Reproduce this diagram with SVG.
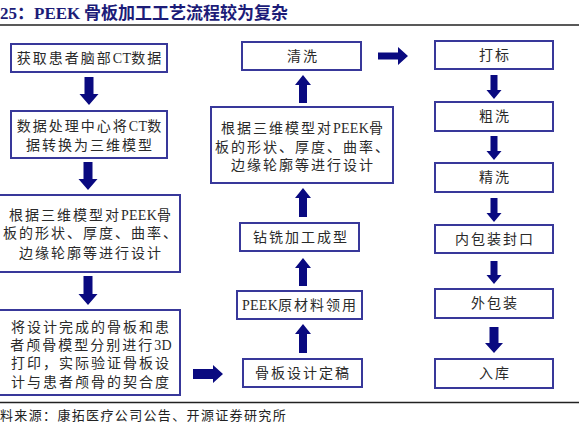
<svg xmlns="http://www.w3.org/2000/svg" width="579" height="428" viewBox="0 0 579 428">
<style>
  .box{fill:#ffffff;stroke:#38389a;stroke-width:2}
  .t{font-family:"Liberation Serif","Noto Sans CJK SC",serif;font-size:14px;fill:#2a2a2a;text-anchor:middle;letter-spacing:2px}
  .l{letter-spacing:0.3px}
  .arr{fill:#0a0a80}
  .title{font-family:"Liberation Serif","Noto Sans CJK SC",serif;font-size:17px;font-weight:bold;fill:#1c1c78}
  .foot{font-family:"Liberation Serif","Noto Sans CJK SC",serif;font-size:13px;fill:#222222;letter-spacing:1.35px}
  .rule{stroke:#222222;stroke-width:1.5}
</style>
<rect width="579" height="428" fill="#ffffff"/>
<g id="title">
  <text class="title" x="0" y="19">25：PEEK</text>
  <text class="title" x="84" y="19">骨板加工工艺流程较为复杂</text>
  <line class="rule" x1="0" y1="25" x2="579" y2="25"/>
</g>
<g id="n1"><rect class="box" x="11" y="44" width="156" height="28"/><text class="t" x="90" y="63">获取患者脑部<tspan class="l">CT</tspan>数据</text></g>
<g id="n2"><rect class="box" x="11" y="111" width="156" height="47"/><text class="t" x="90" y="131">数据处理中心将<tspan class="l">CT</tspan>数</text><text class="t" x="90" y="150">据转换为三维模型</text></g>
<g id="n3"><rect class="box" x="-1" y="195" width="181" height="77"/><text class="t" x="91" y="220">根据三维模型对<tspan class="l">PEEK</tspan>骨</text><text class="t" x="91" y="238">板的形状、厚度、曲率、</text><text class="t" x="91" y="258">边缘轮廓等进行设计</text></g>
<g id="n4"><rect class="box" x="-1" y="310" width="181" height="85"/><text class="t" x="91" y="332">将设计完成的骨板和患</text><text class="t" x="91" y="350">者颅骨模型分别进行<tspan class="l">3D</tspan></text><text class="t" x="91" y="368">打印，实际验证骨板设</text><text class="t" x="91" y="387">计与患者颅骨的契合度</text></g>
<g id="n5"><rect class="box" x="243" y="359" width="119" height="28"/><text class="t" x="303" y="378">骨板设计定稿</text></g>
<g id="n6"><rect class="box" x="237" y="291" width="125" height="28"/><text class="t" x="300" y="310"><tspan class="l">PEEK</tspan>原材料领用</text></g>
<g id="n7"><rect class="box" x="240" y="223" width="119" height="28"/><text class="t" x="301" y="242">钻铣加工成型</text></g>
<g id="n8"><rect class="box" x="211" y="107" width="182" height="76"/><text class="t" x="303" y="133">根据三维模型对<tspan class="l">PEEK</tspan>骨</text><text class="t" x="303" y="152">板的形状、厚度、曲率、</text><text class="t" x="303" y="170">边缘轮廓等进行设计</text></g>
<g id="n9"><rect class="box" x="242" y="42" width="119" height="28"/><text class="t" x="303" y="61">清洗</text></g>
<g id="n10"><rect class="box" x="435" y="41" width="118" height="28"/><text class="t" x="495" y="60">打标</text></g>
<g id="n11"><rect class="box" x="435" y="102" width="118" height="29"/><text class="t" x="495" y="121">粗洗</text></g>
<g id="n12"><rect class="box" x="435" y="163" width="118" height="29"/><text class="t" x="495" y="182">精洗</text></g>
<g id="n13"><rect class="box" x="435" y="225" width="118" height="28"/><text class="t" x="495" y="244">内包装封口</text></g>
<g id="n14"><rect class="box" x="435" y="289" width="118" height="29"/><text class="t" x="495" y="308">外包装</text></g>
<g id="n15"><rect class="box" x="435" y="359" width="118" height="29"/><text class="t" x="495" y="378">入库</text></g>
<g id="connectors">
  <path class="arr" d="M84.5,77 H93.5 V94 H98.5 L89,105 L79.5,94 H84.5 Z"/>
  <path class="arr" d="M83.5,162 H92.5 V179 H97.5 L88,190 L78.5,179 H83.5 Z"/>
  <path class="arr" d="M83.5,276 H92.5 V294 H97.5 L88,305 L78.5,294 H83.5 Z"/>
  <path class="arr" d="M193,369 H213 V365 L223,374 L213,383 V379 H193 Z"/>
  <path class="arr" d="M299,353 H307 V334 H311 L303,324 L295,334 H299 Z"/>
  <path class="arr" d="M299,286 H307 V268 H311 L303,258 L295,268 H299 Z"/>
  <path class="arr" d="M299,217 H307 V198 H311 L303,188 L295,198 H299 Z"/>
  <path class="arr" d="M299,103 H307 V85 H311 L303,75 L295,85 H299 Z"/>
  <path class="arr" d="M378,52.5 H398 V47 L408,56 L398,65 V59.5 H378 Z"/>
  <path class="arr" d="M490.5,75 H497.5 V90 H501.5 L494,99 L486.5,90 H490.5 Z"/>
  <path class="arr" d="M490.5,136 H497.5 V151 H501.5 L494,160 L486.5,151 H490.5 Z"/>
  <path class="arr" d="M490.5,198 H497.5 V213 H501.5 L494,222 L486.5,213 H490.5 Z"/>
  <path class="arr" d="M490.5,261 H497.5 V275 H501.5 L494,284 L486.5,275 H490.5 Z"/>
  <path class="arr" d="M489.5,327 H498.5 V343 H503 L494,353 L485,343 H489.5 Z"/>
</g>
<g id="footer">
  <line class="rule" x1="0" y1="402.5" x2="579" y2="402.5"/>
  <text class="foot" x="0" y="420">料来源：康拓医疗公司公告、开源证券研究所</text>
</g>
</svg>
